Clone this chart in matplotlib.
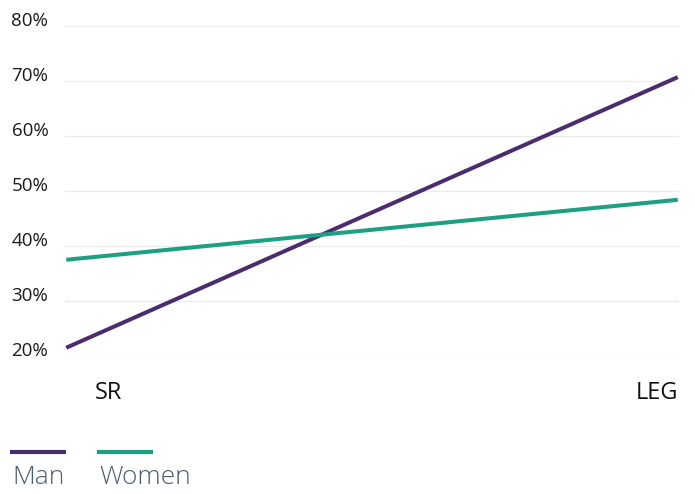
import matplotlib.pyplot as plt
from matplotlib.lines import Line2D
from matplotlib.transforms import ScaledTranslation

plt.rcParams["font.family"] = ["Open Sans", "DejaVu Sans"]

categories = ["SR", "LEG"]
series_names = ["Man", "Women"]
man_values = [21.5, 70.7]
women_values = [37.5, 48.4]
y_ticks = [20, 30, 40, 50, 60, 70, 80]
y_tick_labels = ["20%", "30%", "40%", "50%", "60%", "70%", "80%"]

colors = {"Man": "#4b2d6e", "Women": "#1c9f83"}

W, H = 695, 494
fig = plt.figure(figsize=(W / 100, H / 100), dpi=100)
ax = fig.add_axes([65 / W, (H - 356) / H, (679 - 65) / W, (356 - 26) / H])

x = list(range(len(categories)))
ax.plot(x, man_values, color=colors["Man"], lw=2.9, solid_capstyle="butt")
ax.plot(x, women_values, color=colors["Women"], lw=2.9, solid_capstyle="butt")

ax.set_xlim(-0.002, 1.002)
ax.set_ylim(20, 80)
ax.set_yticks(y_ticks)
ax.set_yticklabels(y_tick_labels, fontsize=13.5, color="#1a1a1a")
ax.set_xticks(x)
ax.set_xticklabels(categories, fontsize=17, color="#111111")
ax.grid(axis="y", color="#ebebeb", lw=1)
ax.set_axisbelow(True)
for s in ax.spines.values():
    s.set_visible(False)
ax.tick_params(axis="y", length=0, pad=12)
ax.tick_params(axis="x", length=0, pad=18)

for lab in ax.get_yticklabels():
    lab.set_transform(lab.get_transform() + ScaledTranslation(0, 7 / 100, fig.dpi_scale_trans))
xl = ax.get_xticklabels()
xl[0].set_ha("left")
xl[0].set_transform(xl[0].get_transform() + ScaledTranslation(29 / 100, 0, fig.dpi_scale_trans))
xl[-1].set_ha("right")

# legend: handle above the label
leg_x = [12, 99]
for name, lx in zip(series_names, leg_x):
    fig.add_artist(Line2D([lx / W, (lx + 52) / W], [(H - 452) / H] * 2,
                          color=colors[name], lw=3, transform=fig.transFigure))
    fig.text(lx / W, (H - 477) / H, name, fontsize=19, color="#4d5d6e",
             fontweight="light", ha="left", va="center")

fig.savefig("out.png", dpi=100)
